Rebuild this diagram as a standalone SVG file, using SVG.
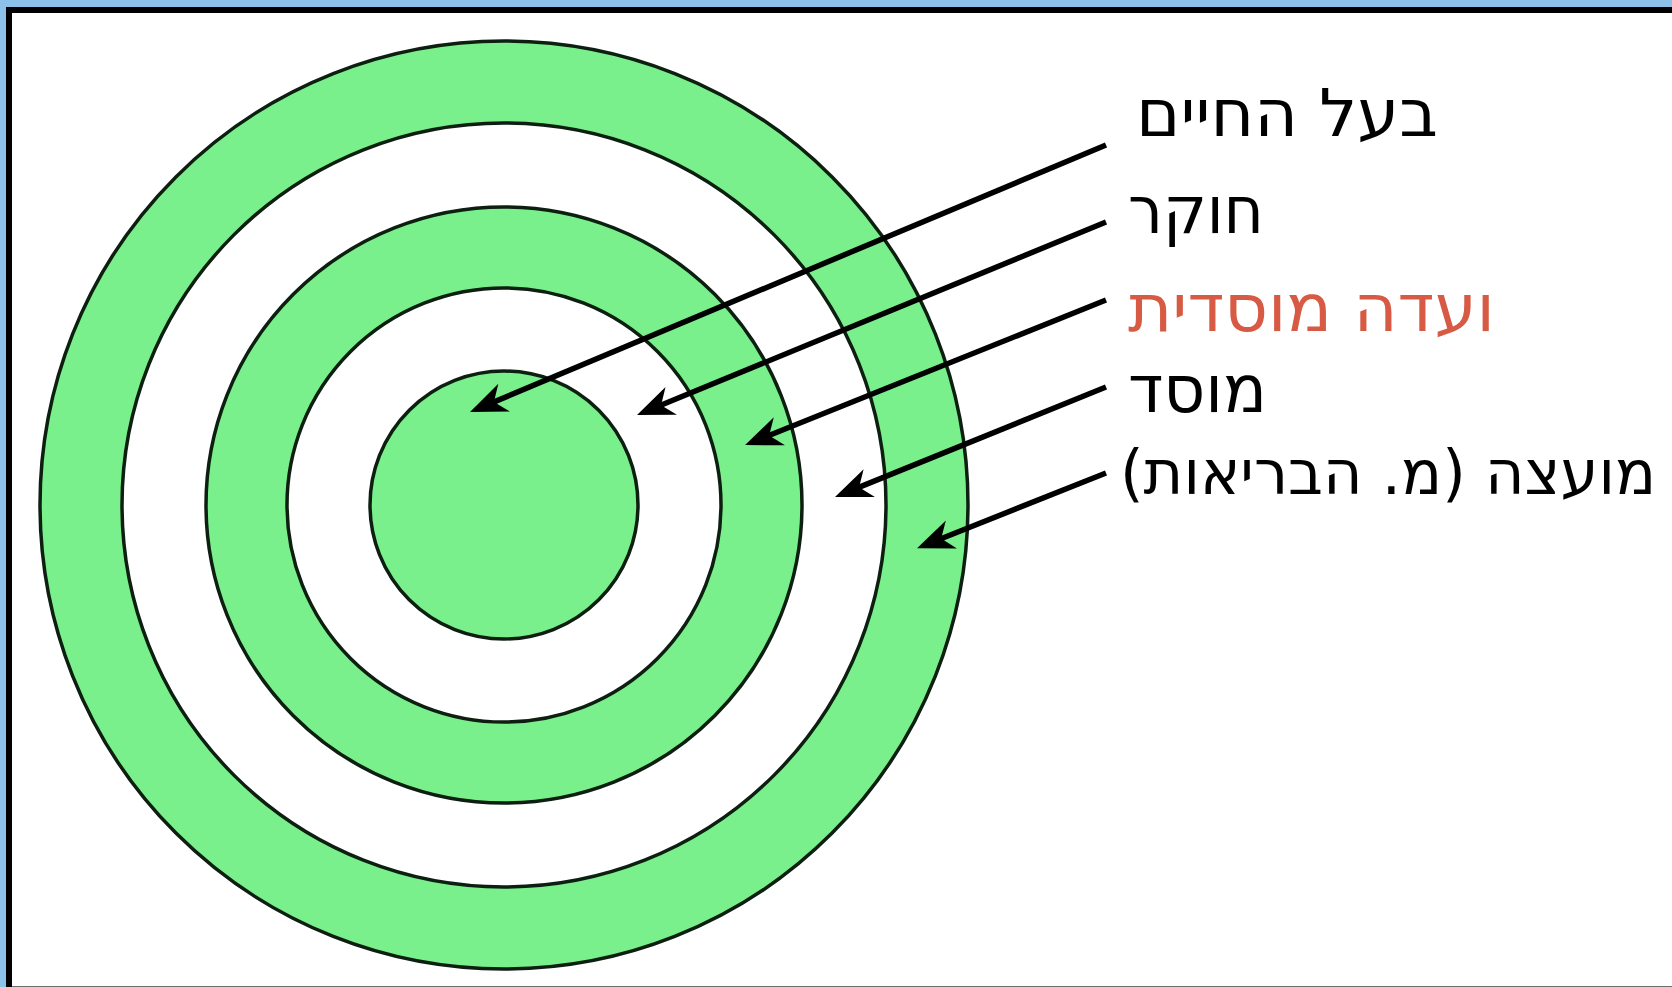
<svg xmlns="http://www.w3.org/2000/svg" width="1672" height="987" viewBox="0 0 1672 987">
<style>
.ring{stroke:#0d1f10;stroke-width:3.5}
.g{fill:#79F08B}
.w{fill:#ffffff}
.arrow{stroke:#000;stroke-width:5.5;fill:none;marker-end:url(#ah)}
.lbl{font-family:"DejaVu Sans","Noto Sans",sans-serif;font-size:66px;fill:#000}
.red{fill:#D75B44}
.small{font-size:62px}
</style>
<defs>
<marker id="ah" markerUnits="userSpaceOnUse" markerWidth="42" markerHeight="36" viewBox="0 -18 42 36" refX="14" refY="0" orient="auto">
<path d="M0,-15 L37,0 L0,15 L11,0 Z" fill="#000"/>
</marker>
</defs>
<rect x="0" y="0" width="1672" height="987" fill="#8CC2EA"/>
<rect x="9" y="10" width="1700" height="1000" fill="#ffffff" stroke="#000" stroke-width="6"/>
<line x1="12" y1="986.5" x2="1672" y2="986.5" stroke="#6d6d6d" stroke-width="1"/>
<g id="target">
<circle id="ring-council" class="ring g" cx="504" cy="505" r="464"/>
<circle id="ring-institution" class="ring w" cx="504" cy="505" r="382"/>
<circle id="ring-committee" class="ring g" cx="504" cy="505" r="298"/>
<circle id="ring-researcher" class="ring w" cx="504" cy="505" r="217"/>
<circle id="ring-animal" class="ring g" cx="504" cy="505" r="134"/>
</g>
<g id="connectors">
<line class="arrow" x1="1106" y1="145" x2="491.2" y2="403.1"/>
<line class="arrow" x1="1106" y1="222" x2="658.3" y2="406.3"/>
<line class="arrow" x1="1106" y1="300" x2="766.4" y2="436.5"/>
<line class="arrow" x1="1106" y1="387" x2="856.3" y2="488.4"/>
<line class="arrow" x1="1106" y1="473" x2="938.4" y2="539.7"/>
</g>
<g id="label-animal"><text class="lbl" x="1136" y="136" direction="rtl" text-anchor="end" textLength="302" lengthAdjust="spacingAndGlyphs">בעל החיים</text></g>
<g id="label-researcher"><text class="lbl" x="1128" y="233" direction="rtl" text-anchor="end" textLength="136" lengthAdjust="spacingAndGlyphs">חוקר</text></g>
<g id="label-committee"><text class="lbl red" x="1128" y="331" direction="rtl" text-anchor="end" textLength="367" lengthAdjust="spacingAndGlyphs">ועדה מוסדית</text></g>
<g id="label-institution"><text class="lbl" x="1128" y="412" direction="rtl" text-anchor="end" textLength="139" lengthAdjust="spacingAndGlyphs">מוסד</text></g>
<g id="label-council"><text class="lbl small" x="1120" y="494" direction="rtl" text-anchor="end" textLength="536" lengthAdjust="spacingAndGlyphs">מועצה (מ. הבריאות)</text></g>
</svg>
